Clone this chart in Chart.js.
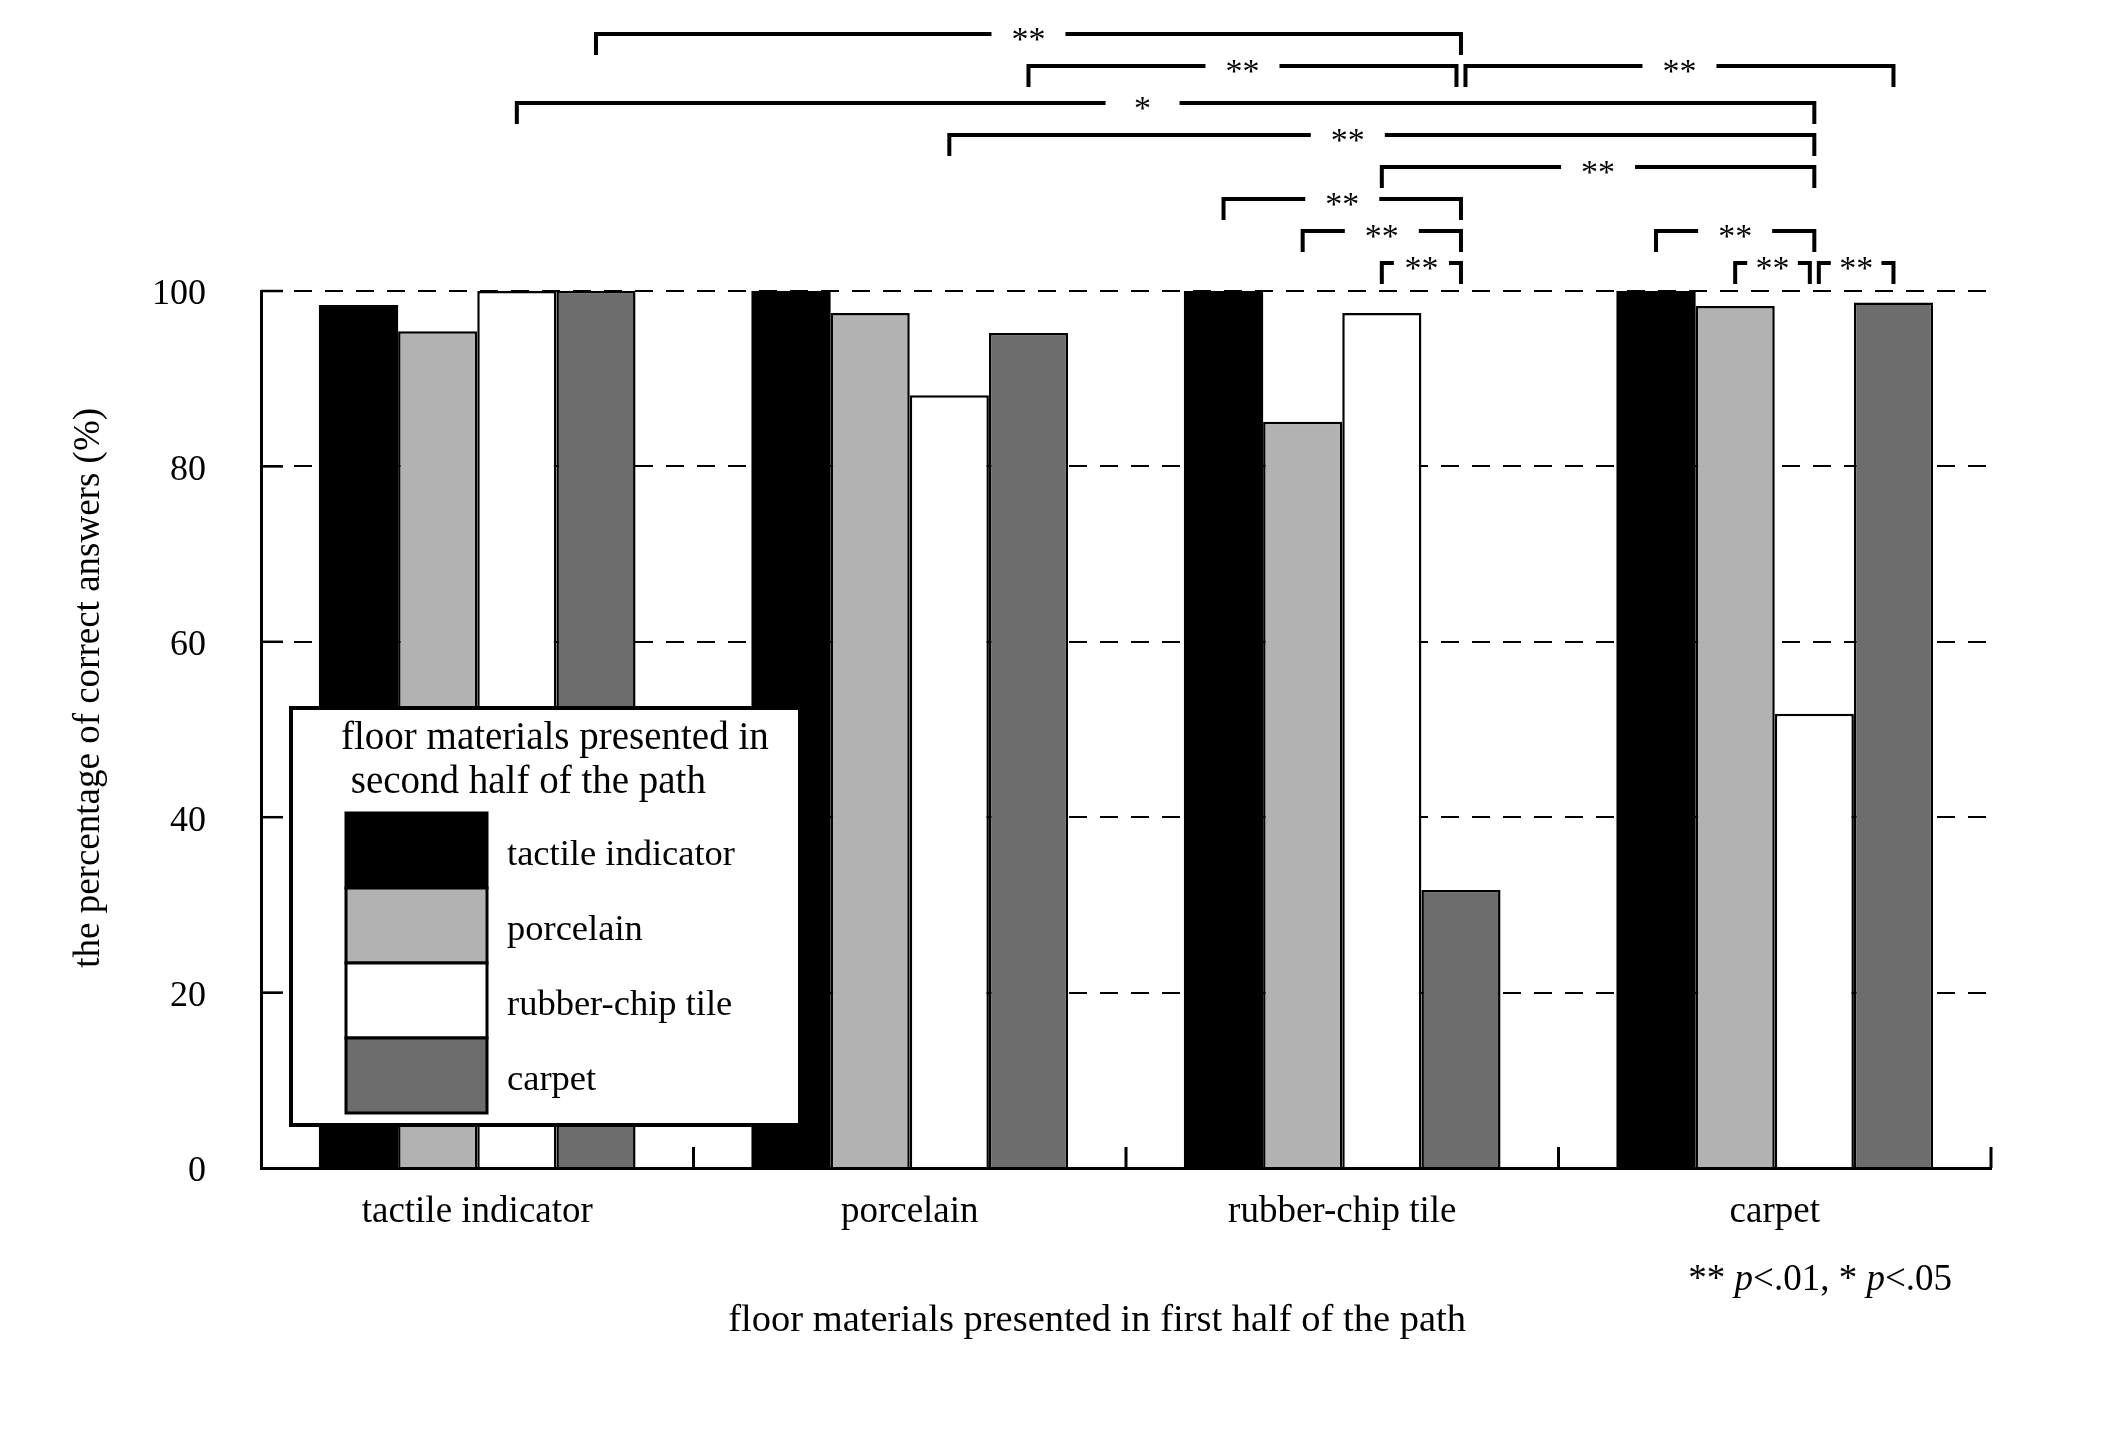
<!DOCTYPE html>
<html><head><meta charset="utf-8">
<script src="https://cdn.jsdelivr.net/npm/chart.js@4.4.0/dist/chart.umd.min.js"></script>
<style>html,body{margin:0;padding:0;background:#fff;}canvas{display:block;}</style>
</head><body>
<canvas id="c" width="2119" height="1440"></canvas>
<script>
// ---- data ----
const categories = ['tactile indicator', 'porcelain', 'rubber-chip tile', 'carpet'];
const seriesNames = ['tactile indicator', 'porcelain', 'rubber-chip tile', 'carpet'];
const tactileIndicatorValues = [98.4, 100, 100, 100];
const porcelainValues = [95.4, 97.5, 85.1, 98.3];
const rubberChipTileValues = [100, 88.1, 97.5, 51.8];
const carpetValues = [100, 95.2, 31.7, 98.7];
const yTickValues = [0, 20, 40, 60, 80, 100];
// significance brackets: [from category, from series, to category, to series, label, row]
const comparisons = [
  [0, 3, 2, 3, '**', 0],
  [1, 3, 2, 3, '**', 1],
  [2, 3, 3, 3, '**', 1],
  [0, 2, 3, 2, '*', 2],
  [1, 2, 3, 2, '**', 3],
  [2, 2, 3, 2, '**', 4],
  [2, 0, 2, 3, '**', 5],
  [2, 1, 2, 3, '**', 6],
  [3, 0, 3, 2, '**', 6],
  [2, 2, 2, 3, '**', 7],
  [3, 1, 3, 2, '**', 7],
  [3, 2, 3, 3, '**', 7]
];
const legendTitleLines = ['floor materials presented in', ' second half of the path'];
const xAxisTitle = 'floor materials presented in first half of the path      ';
const yAxisTitle = '         the percentage of correct answers (%)';
const noteParts = [['** ', false], ['p', true], ['<.01, * ', false], ['p', true], ['<.05', false]];

const FONT = '"Liberation Serif", "Times New Roman", serif';
const fills = ['#000000', '#b2b2b2', '#ffffff', '#6d6d6d'];
const borders = [0, 2.5, 2.5, 2.5];
const seriesValues = [tactileIndicatorValues, porcelainValues, rubberChipTileValues, carpetValues];

const overlay = {
  id: 'overlay',
  afterDatasetsDraw(chart) {
    const {ctx, chartArea: ca, scales: {x, y}} = chart;
    ctx.save();
    ctx.strokeStyle = '#000';
    ctx.fillStyle = '#000';
    // inward x ticks at category boundaries
    ctx.lineWidth = 3;
    const n = categories.length;
    const step = x.getPixelForValue(1) - x.getPixelForValue(0);
    for (let i = 0; i < n; i++) {
      const px = x.getPixelForValue(i) + step / 2;
      ctx.beginPath(); ctx.moveTo(px, ca.bottom); ctx.lineTo(px, ca.bottom - 21); ctx.stroke();
    }
    // inward y ticks
    ctx.lineWidth = 2.5;
    yTickValues.forEach(v => {
      if (v === 0) return;
      const py = y.getPixelForValue(v);
      ctx.beginPath(); ctx.moveTo(ca.left, py); ctx.lineTo(ca.left + 22, py); ctx.stroke();
    });
    // significance brackets
    const labelNudge = {3: -23, 4: -34};
    const barX = (c, s) => chart.getDatasetMeta(s).data[c].x;
    ctx.lineWidth = 4;
    ctx.lineJoin = 'miter';
    ctx.lineCap = 'butt';
    ctx.font = '34px ' + FONT;
    ctx.textAlign = 'center';
    ctx.textBaseline = 'alphabetic';
    comparisons.forEach((cmp, idx) => {
      const [c1, s1, c2, s2, label, row] = cmp;
      let xl = barX(c1, s1), xr = barX(c2, s2);
      comparisons.forEach((o, j) => {
        if (j === idx || o[5] !== row) return;
        if (o[0] === c2 && o[1] === s2) xr -= 4.5;
        if (o[2] === c1 && o[3] === s1) xl += 4.5;
      });
      const ry = 34 + row * 32 + (row >= 2 ? 5 : 0);
      const drop = 21;
      const mid = (xl + xr) / 2 + (labelNudge[idx] || 0);
      const gap = Math.min(74, (xr - xl) - 24);
      ctx.beginPath();
      ctx.moveTo(xl, ry + drop); ctx.lineTo(xl, ry); ctx.lineTo(mid - gap / 2, ry);
      ctx.moveTo(mid + gap / 2, ry); ctx.lineTo(xr, ry); ctx.lineTo(xr, ry + drop);
      ctx.stroke();
      ctx.fillText(label, mid, ry + 16);
    });
    // legend
    const lx = ca.left + 28, ly = 706, lw = 513, lh = 421;
    ctx.fillStyle = '#fff';
    ctx.fillRect(lx, ly, lw, lh);
    ctx.lineWidth = 4;
    ctx.strokeRect(lx + 2, ly + 2, lw - 4, lh - 4);
    ctx.fillStyle = '#000';
    ctx.textAlign = 'left';
    ctx.textBaseline = 'middle';
    ctx.font = '39px ' + FONT;
    legendTitleLines.forEach((t, i) => ctx.fillText(t, lx + 52, ly + 33 + i * 44));
    ctx.font = '36.5px ' + FONT;
    chart.data.datasets.forEach((ds, i) => {
      const top = ly + 107 + i * 75;
      ctx.fillStyle = ds.backgroundColor;
      ctx.fillRect(lx + 57, top, 141, 75);
      ctx.lineWidth = 3;
      ctx.strokeStyle = '#000';
      ctx.strokeRect(lx + 57, top, 141, 75);
      ctx.fillStyle = '#000';
      ctx.fillText(ds.label, lx + 218, top + 42);
    });
    // note
    ctx.textAlign = 'left';
    ctx.textBaseline = 'alphabetic';
    let total = 0;
    noteParts.forEach(([t, it]) => { ctx.font = (it ? 'italic ' : '') + '37px ' + FONT; total += ctx.measureText(t).width; });
    let nx = 1952 - total;
    noteParts.forEach(([t, it]) => { ctx.font = (it ? 'italic ' : '') + '37px ' + FONT; ctx.fillText(t, nx, 1290); nx += ctx.measureText(t).width; });
    ctx.restore();
  }
};

new Chart(document.getElementById('c'), {
  type: 'bar',
  data: {
    labels: categories,
    datasets: seriesNames.map((name, i) => ({
      label: name,
      data: seriesValues[i],
      backgroundColor: fills[i],
      borderColor: '#000',
      borderWidth: borders[i],
      borderSkipped: 'start',
      categoryPercentage: 0.732,
      barPercentage: 1.0
    }))
  },
  options: {
    responsive: false,
    animation: false,
    devicePixelRatio: 1,
    layout: {padding: {top: 291, right: 128, left: 0, bottom: 0}},
    plugins: {legend: {display: false}, tooltip: {enabled: false}},
    scales: {
      x: {
        type: 'category',
        offset: true,
        grid: {display: false, drawTicks: false},
        border: {display: true, color: '#000', width: 3},
        ticks: {color: '#000', font: {family: FONT, size: 37}, padding: 22, maxRotation: 0},
        title: {display: true, text: xAxisTitle, color: '#000', font: {family: FONT, size: 38.5}, padding: {top: 0, bottom: 96}},
        afterFit: s => { s.height = 272; }
      },
      y: {
        min: 0, max: 100,
        afterBuildTicks: s => { s.ticks = yTickValues.map(v => ({value: v})); },
        grid: {color: '#000', lineWidth: 2, drawTicks: false},
        border: {display: true, color: '#000', width: 3, dash: [18, 13]},
        ticks: {color: '#000', font: {family: FONT, size: 36}, padding: 55, labelOffset: 4},
        title: {display: true, text: yAxisTitle, color: '#000', font: {family: FONT, size: 37}, padding: {top: 67, bottom: 0}},
        afterFit: s => { s.width = 261; }
      }
    }
  },
  plugins: [overlay]
});
</script>
</body></html>
